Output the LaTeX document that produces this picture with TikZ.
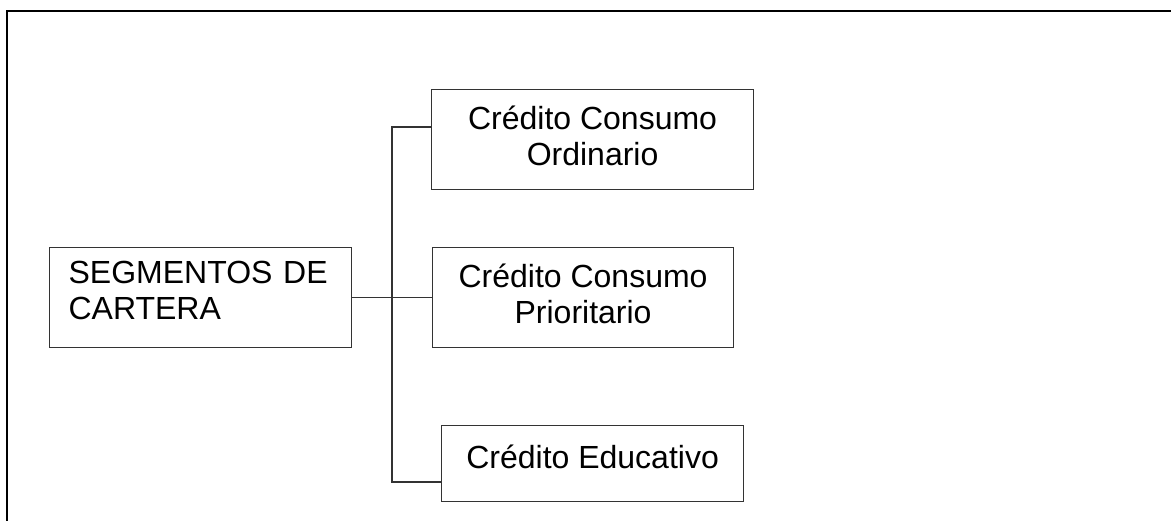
\documentclass[tikz,border=0pt]{standalone}
\usepackage{fontspec}
\setmainfont{Liberation Sans}
\usepackage{tikz}
\usetikzlibrary{positioning, calc}
\definecolor{boxline}{HTML}{333333}

\tikzset{
  segbox/.style={draw=boxline, line width=1.2pt, anchor=north west, align=center,
    font=\fontsize{32}{36}\selectfont, inner sep=0pt},
  link/.style={draw=boxline, line width=1.2pt}
}

\begin{document}
\begin{tikzpicture}[x=1pt, y=-1pt]
  \useasboundingbox (0,0) rectangle (1171,521);

  % Frame
  \draw[line width=2.4pt] (7,521) -- (7,11) -- (1171,11);

  % Boxes
  \node[segbox, minimum width=302pt, minimum height=100pt, text width=264pt, align=left, text depth=51pt] (seg) at (49,247) {SEGMENTOS DE\\CARTERA};
  \node[segbox, minimum width=322pt, minimum height=100pt, text depth=8pt] (ord) at (431,89) {Crédito Consumo\\Ordinario};
  \node[segbox, minimum width=301pt, minimum height=100pt, text depth=8pt] (pri) at (432,247) {Crédito Consumo\\Prioritario};
  \node[segbox, minimum width=302pt, minimum height=76pt, text depth=14pt] (edu) at (441,425) {Crédito Educativo};

  % Connectors
  \coordinate (top) at (392,127);
  \coordinate (bot) at (392,482);
  \draw[link] (ord.west |- top) -- (top) -- (bot) -- (edu.west |- bot);
  \draw[link] (seg.east) -- (pri.west);
\end{tikzpicture}
\end{document}
